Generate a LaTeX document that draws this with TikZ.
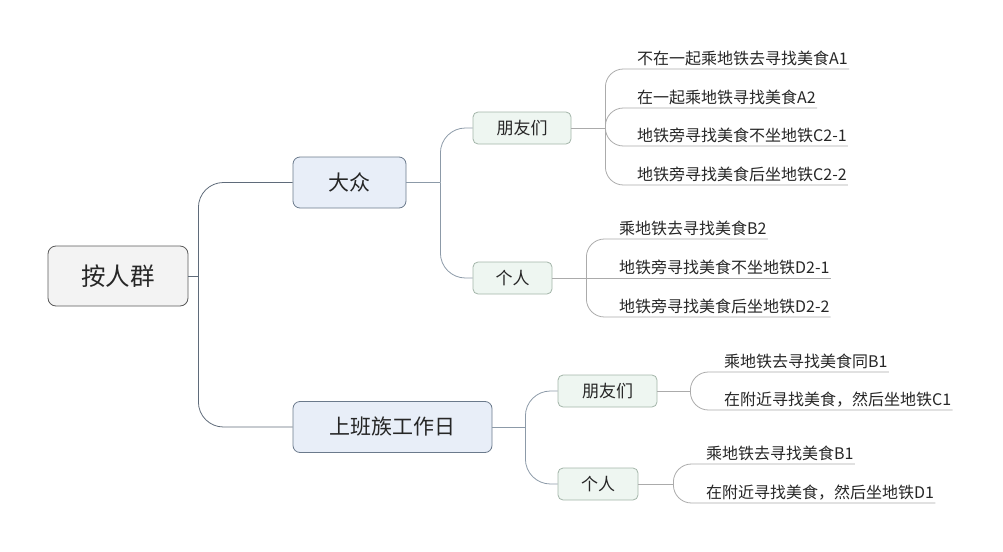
\documentclass[tikz,border=0pt]{standalone}
\usepackage{fontspec}
\setmainfont{Noto Sans CJK SC}
\definecolor{mainc}{HTML}{5F6B7A}
\definecolor{subc}{HTML}{8C9AA8}
\definecolor{leafc}{HTML}{ABABAB}
\definecolor{rootfill}{HTML}{F3F3F3}
\definecolor{rootdraw}{HTML}{5A5A5A}
\definecolor{mainfill}{HTML}{E8EEF8}
\definecolor{maindraw}{HTML}{6B7A8C}
\definecolor{subfill}{HTML}{EEF6F1}
\definecolor{subdraw}{HTML}{A3B5A9}
\begin{document}
\begin{tikzpicture}[x=1pt,y=-1pt,
  every node/.style={text=black!85},
  rootbox/.style={draw=rootdraw, fill=rootfill, rounded corners=8pt, minimum width=140pt, minimum height=60pt, line width=0.8pt, font=\fontsize{24.5}{28}\selectfont},
  mainbox/.style={draw=maindraw, fill=mainfill, rounded corners=7pt, minimum height=51pt, line width=0.8pt, font=\fontsize{21}{24}\selectfont},
  subbox/.style={draw=subdraw, fill=subfill, rounded corners=5pt, minimum height=32pt, line width=0.8pt, font=\fontsize{17}{20}\selectfont},
  leaf/.style={anchor=south west, inner xsep=1pt, inner ysep=3pt, font=\fontsize{16}{19}\selectfont},
  mainline/.style={draw=mainc, line width=0.8pt, rounded corners=25pt},
  subline/.style={draw=subc, line width=0.8pt, rounded corners=25pt},
  leafline/.style={draw=leafc, line width=0.8pt, rounded corners=18pt}
]
\useasboundingbox (0,0) rectangle (1003,551);
% nodes
\node[rootbox] (root) at (118,276) {按人群};
\node[mainbox, minimum width=113pt] (dz) at (349.5,182.5) {大众};
\node[mainbox, minimum width=199pt] (sb) at (392.5,427) {上班族工作日};
\node[subbox, minimum width=98pt] (f1) at (522,128) {朋友们};
\node[subbox, minimum width=79pt] (p1) at (512.5,278) {个人};
\node[subbox, minimum width=99pt] (f2) at (607.5,391) {朋友们};
\node[subbox, minimum width=80pt] (p2) at (598,484) {个人};
% leaves
\node[leaf] (a1) at (636,69) {不在一起乘地铁去寻找美食A1};
\node[leaf] (a2) at (636,108) {在一起乘地铁寻找美食A2};
\node[leaf] (c21) at (636,146) {地铁旁寻找美食不坐地铁C2-1};
\node[leaf] (c22) at (636,185) {地铁旁寻找美食后坐地铁C2-2};
\node[leaf] (b2) at (618,239) {乘地铁去寻找美食B2};
\node[leaf] (d21) at (618,278) {地铁旁寻找美食不坐地铁D2-1};
\node[leaf] (d22) at (618,317) {地铁旁寻找美食后坐地铁D2-2};
\node[leaf] (b1a) at (723,372) {乘地铁去寻找美食同B1};
\node[leaf] (c1) at (723,410) {在附近寻找美食，然后坐地铁C1};
\node[leaf] (b1b) at (705,464) {乘地铁去寻找美食B1};
\node[leaf] (d1) at (705,503) {在附近寻找美食，然后坐地铁D1};
% trunks
\coordinate (t0) at ([xshift=10pt]root.east);
\coordinate (tdz) at ([xshift=34pt]dz.east);
\coordinate (tsb) at ([xshift=33pt]sb.east);
\coordinate (tf1) at ([xshift=34pt]f1.east);
\coordinate (tp1) at ([xshift=34pt]p1.east);
\coordinate (tf2) at ([xshift=33pt]f2.east);
\coordinate (tp2) at ([xshift=35pt]p2.east);
% main connectors
\draw[mainline] (root.east) -- (t0);
\draw[mainline] (t0) |- (dz.west);
\draw[mainline] (t0) |- (sb.west);
\draw[subline] (dz.east) -- (tdz);
\draw[subline] (tdz) |- (f1.west);
\draw[subline] (tdz) |- (p1.west);
\draw[subline] (sb.east) -- (tsb);
\draw[subline] (tsb) |- (f2.west);
\draw[subline] (tsb) |- (p2.west);
% leaf connectors
\draw[leafline] (f1.east) -- (tf1);
\draw[leafline] (tf1) |- (a1.south east);
\draw[leafline] (tf1) |- (a2.south east);
\draw[leafline] (tf1) |- (c21.south east);
\draw[leafline] (tf1) |- (c22.south east);
\draw[leafline] (p1.east) -- (d21.south east);
\draw[leafline] (tp1) |- (b2.south east);
\draw[leafline] (tp1) |- (d22.south east);
\draw[leafline] (f2.east) -- (tf2);
\draw[leafline] (tf2) |- (b1a.south east);
\draw[leafline] (tf2) |- (c1.south east);
\draw[leafline] (p2.east) -- (tp2);
\draw[leafline] (tp2) |- (b1b.south east);
\draw[leafline] (tp2) |- (d1.south east);
\end{tikzpicture}
\end{document}
